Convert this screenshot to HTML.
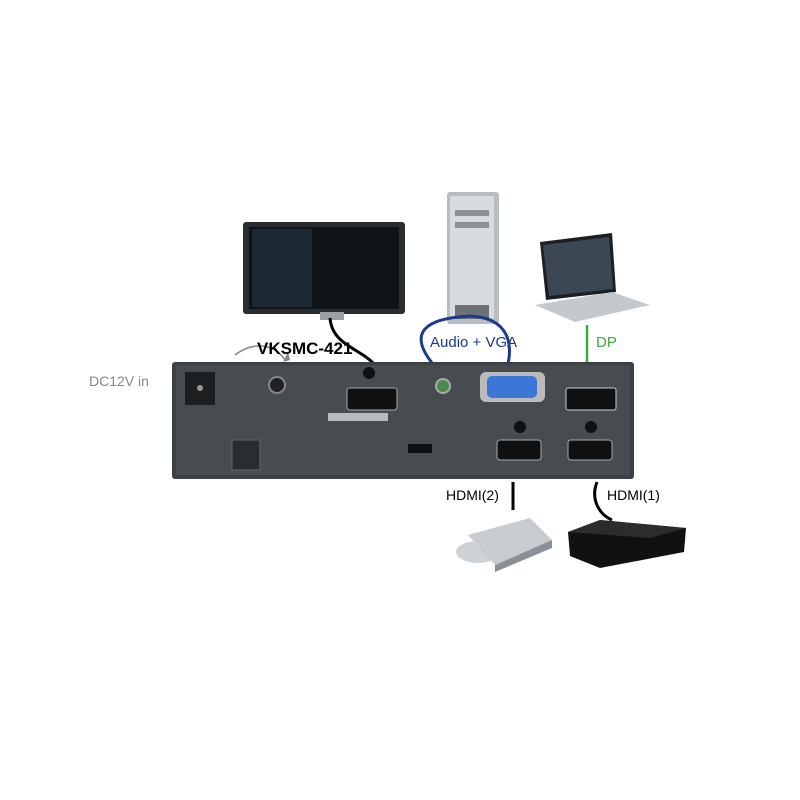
<!DOCTYPE html>
<html><head><style>
body{margin:0;background:#fff;width:800px;height:800px;position:relative;overflow:hidden;font-family:"Liberation Sans",sans-serif}
.a{position:absolute}
</style></head><body>
<svg class="a" style="left:0;top:0" width="800" height="800" viewBox="0 0 800 800">
<!-- TV -->
<rect x="243" y="222" width="162" height="92" rx="3" fill="#2a2d30"/>
<rect x="249" y="227" width="150" height="82" fill="#0f1418"/>
<rect x="252" y="229" width="60" height="78" fill="#1d2a33"/>
<rect x="320" y="312" width="24" height="8" fill="#9aa0a4"/>
<!-- PC tower -->
<rect x="447" y="192" width="52" height="132" rx="3" fill="#b9bdc1"/>
<rect x="450" y="196" width="44" height="122" fill="#d9dcdf"/>
<rect x="455" y="210" width="34" height="6" fill="#8c9196"/>
<rect x="455" y="222" width="34" height="6" fill="#8c9196"/>
<rect x="455" y="305" width="34" height="14" fill="#6d7276"/>
<!-- Laptop -->
<polygon points="540,242 612,233 616,292 546,300" fill="#1c1f22"/>
<polygon points="543,245 609,237 613,289 549,296" fill="#3b4752"/>
<polygon points="535,305 612,292 650,305 575,322" fill="#c6c9cc"/>
<!-- cables -->
<path d="M330 318 C332 345,360 348,375 365" stroke="#000" stroke-width="3" fill="none"/>
<path d="M440 372 C400 330,430 318,470 316 C510 318,515 345,505 375" stroke="#1a3a8a" stroke-width="3" fill="none"/>
<line x1="587" y1="325" x2="587" y2="365" stroke="#3da83d" stroke-width="2.5"/>
<line x1="513" y1="482" x2="513" y2="510" stroke="#000" stroke-width="3"/>
<path d="M597 482 C590 500,600 515,612 520" stroke="#000" stroke-width="3" fill="none"/>
<path d="M235 355 C255 340,275 345,285 360" stroke="#888" stroke-width="1.5" fill="none"/>
<polygon points="283,362 288,352 290,360" fill="#888"/>
<!-- Device box -->
<rect x="172" y="362" width="462" height="117" rx="3" fill="#3c4146"/>
<rect x="176" y="365" width="454" height="110" fill="#474c51"/>
<rect x="185" y="372" width="30" height="33" fill="#1c1e20"/>
<circle cx="200" cy="388" r="3" fill="#999"/>
<circle cx="277" cy="385" r="8" fill="#222" stroke="#888" stroke-width="2"/>
<rect x="232" y="440" width="28" height="30" fill="#2a2d30" stroke="#666"/>
<circle cx="369" cy="373" r="6" fill="#111"/>
<rect x="347" y="388" width="50" height="22" rx="3" fill="#111" stroke="#aaa"/>
<rect x="328" y="413" width="60" height="8" fill="#bbb"/>
<circle cx="443" cy="386" r="7" fill="#4a8a4a" stroke="#aaa" stroke-width="2"/>
<rect x="480" y="372" width="65" height="30" rx="6" fill="#bbb"/>
<rect x="487" y="376" width="50" height="22" rx="5" fill="#3a77d6"/>
<rect x="566" y="388" width="50" height="22" rx="2" fill="#111" stroke="#ccc"/>
<circle cx="520" cy="427" r="6" fill="#111"/>
<circle cx="591" cy="427" r="6" fill="#111"/>
<rect x="497" y="440" width="44" height="20" rx="3" fill="#111" stroke="#aaa"/>
<rect x="568" y="440" width="44" height="20" rx="3" fill="#111" stroke="#aaa"/>
<rect x="408" y="444" width="24" height="9" fill="#111"/>
<!-- DVD -->
<ellipse cx="478" cy="552" rx="22" ry="11" fill="#cdd2d6"/>
<polygon points="468,535 530,518 552,540 495,565" fill="#c8ccd0"/>
<polygon points="495,565 552,540 552,548 495,572" fill="#8a9095"/>
<!-- PS3 -->
<polygon points="568,532 600,520 686,528 684,552 600,568 570,556" fill="#111"/>
<polygon points="568,532 600,520 686,528 650,538" fill="#2c2c2c"/>
</svg>
<div class="a" style="left:257px;top:339px;font-size:17px;font-weight:bold">VKSMC-421</div>
<div class="a" style="left:89px;top:373px;font-size:14px;color:#888">DC12V in</div>
<div class="a" style="left:430px;top:334px;font-size:15px;color:#1a3a8a">Audio + VGA</div>
<div class="a" style="left:596px;top:334px;font-size:15px;color:#3da83d">DP</div>
<div class="a" style="left:446px;top:487px;font-size:14px">HDMI(2)</div>
<div class="a" style="left:607px;top:487px;font-size:14px">HDMI(1)</div>
</body></html>
